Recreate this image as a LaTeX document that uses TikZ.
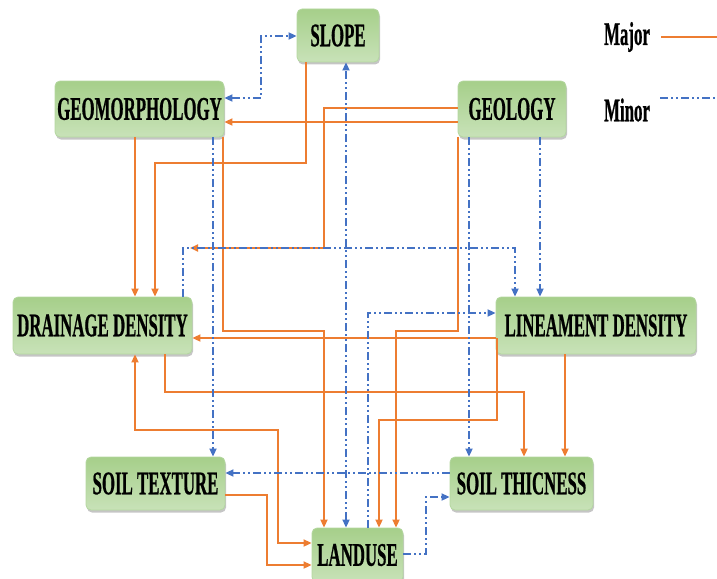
\documentclass[tikz,border=0pt]{standalone}
\usepackage{fontspec}
\newfontfamily\boxfont{Liberation Serif}[FakeStretch=0.51,FakeBold=0.6]
\usepackage{tikz}
\usetikzlibrary{arrows.meta,shadows}
\definecolor{majorc}{RGB}{237,125,49}
\definecolor{minorc}{RGB}{68,114,196}
\definecolor{boxtop}{RGB}{166,207,138}
\definecolor{boxmid}{RGB}{230,241,222}
\definecolor{boxbot}{RGB}{200,226,184}
\definecolor{boxline}{RGB}{180,215,160}

\begin{document}
\begin{tikzpicture}[x=1pt,y=-1pt,
  >={Triangle[length=8pt,width=7pt]},
  txt/.style={font=\boxfont\bfseries\fontsize{33}{35}\selectfont},
  factor/.style={txt,draw=boxline,line width=0.8pt,rounded corners=5pt,
    top color=boxtop,middle color=boxmid,bottom color=boxbot,
    drop shadow={shadow xshift=1pt,shadow yshift=-2.5pt,fill=black!45},
    inner sep=0pt,minimum width=#1},
  major/.style={draw=majorc,line width=1.7pt,->},
  minor/.style={draw=minorc,line width=1.7pt,->,
    dash pattern=on 8pt off 3pt on 2pt off 3pt on 2pt off 3pt}]
\useasboundingbox (0,0) rectangle (717,578);
\node [factor=82pt,minimum height=53pt] (slope) at (338,35.5) {SLOPE};
\node [factor=169pt,minimum height=56pt] (geomorph) at (139.5,109) {GEOMORPHOLOGY};
\node [factor=108pt,minimum height=56pt] (geology) at (512,109) {GEOLOGY};
\node [factor=179pt,minimum height=57pt] (drainage) at (102.5,325.5) {DRAINAGE DENSITY};
\node [factor=200pt,minimum height=57pt] (lineament) at (596,325.5) {LINEAMENT DENSITY};
\node [factor=139pt,minimum height=53pt] (soiltexture) at (155.5,483.5) {SOIL TEXTURE};
\node [factor=143pt,minimum height=53pt] (soilthick) at (521.5,483.5) {SOIL THICNESS};
\node [factor=91pt,minimum height=54pt] (landuse) at (357.5,555) {LANDUSE};
\node [txt] (majorlbl) at (627,37) {Major};
\node [txt] (minorlbl) at (627,110) {Minor};
\coordinate (ddtip) at (190,248);

\draw[major,-] (661,0 |- majorlbl.center) -- (717,0 |- majorlbl.center);
\draw[minor,-] (660,98) -- (717,98);

\draw[major] (slope.south -| 306,0) |- (155,163) -- (155,0 |- drainage.north);
\draw[major] (135,0 |- geomorph.south) -- (135,0 |- drainage.north);
\draw[major] (geology.west |- 0,122) -- (geomorph.east |- 0,122);
\draw[major] (geology.west |- 0,108) -| (324,248) -- (ddtip);
\draw[major] (223,0 |- geomorph.south) |- (324,331) -- (324,0 |- landuse.north);
\draw[major] (458,0 |- geology.south) |- (396,331) -- (396,0 |- landuse.north);
\draw[major] (lineament.west |- 0,338) -- (drainage.east |- 0,338);
\draw[major] (165,0 |- drainage.south) |- (524,392) -- (524,0 |- soilthick.north);
\draw[major] (565,0 |- lineament.south) -- (565,0 |- soilthick.north);
\draw[major] (497,338) |- (379,420) -- (379,0 |- landuse.north);
\draw[major,<->] (135,0 |- drainage.south) |- (278,430) |- (landuse.west |- 0,543);
\draw[major] (soiltexture.east |- 0,495) -| (267,565) -- (landuse.west |- 0,565);

\draw[minor,<->] (geomorph.east |- 0,98) -| (261,36) -- (slope.west |- 0,36);
\draw[minor] (183,0 |- drainage.north) |- (515,248) -- (515,0 |- lineament.north);
\draw[minor] (213,0 |- geomorph.south) -- (213,0 |- soiltexture.north);
\draw[minor,<->] (346,0 |- landuse.north) -- (346,0 |- slope.south);
\draw[minor] (469,0 |- geology.south) -- (469,0 |- soilthick.north);
\draw[minor] (540,0 |- geology.south) -- (540,0 |- lineament.north);
\draw[minor] (368,0 |- landuse.north) |- (lineament.west |- 0,313);
\draw[minor] (soilthick.west |- 0,473) -- (soiltexture.east |- 0,473);
\draw[minor] (landuse.east |- 0,554) -| (426,497) -- (soilthick.west |- 0,497);
\end{tikzpicture}
\end{document}
